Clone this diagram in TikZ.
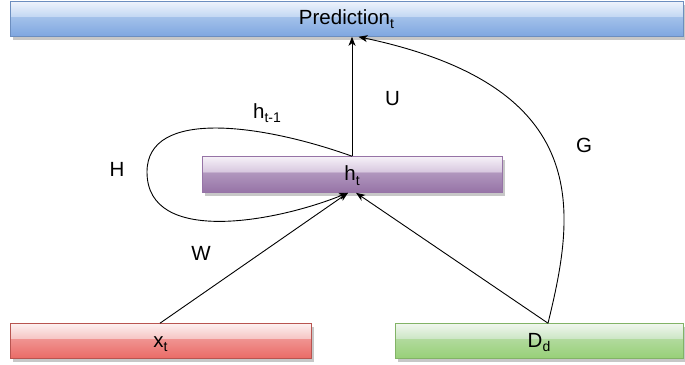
\documentclass[tikz,border=0pt]{standalone}
\usepackage{fontspec}
\setmainfont{Liberation Sans}
\usetikzlibrary{arrows.meta,shadows}

% bar colours: top tint, glass edge (upper), glass edge (lower), bottom tint, border
\definecolor{blueT}{HTML}{EEF3FC}\definecolor{blueU}{HTML}{C4D8F3}\definecolor{blueL}{HTML}{A3C1EA}\definecolor{blueB}{HTML}{7EA6E0}\definecolor{blueS}{HTML}{6C8EBF}
\definecolor{purpT}{HTML}{F6F1F8}\definecolor{purpU}{HTML}{D8C8DF}\definecolor{purpL}{HTML}{B197BE}\definecolor{purpB}{HTML}{9673A6}\definecolor{purpS}{HTML}{9673A6}
\definecolor{redT}{HTML}{FDF0F0}\definecolor{redU}{HTML}{F6C6C5}\definecolor{redL}{HTML}{F09391}\definecolor{redB}{HTML}{EA6B66}\definecolor{redS}{HTML}{B85450}
\definecolor{grnT}{HTML}{F0F7EE}\definecolor{grnU}{HTML}{CDE6C6}\definecolor{grnL}{HTML}{B1DA9D}\definecolor{grnB}{HTML}{97D077}\definecolor{grnS}{HTML}{82B366}

% glossy vertical shadings (25bp = bottom edge, 75bp = top edge of the bar)
\pgfdeclareverticalshading{glassblue}{100bp}{color(0bp)=(blueB); color(25bp)=(blueB); color(53bp)=(blueL); color(54bp)=(blueU); color(75bp)=(blueT); color(100bp)=(blueT)}
\pgfdeclareverticalshading{glasspurp}{100bp}{color(0bp)=(purpB); color(25bp)=(purpB); color(53bp)=(purpL); color(54bp)=(purpU); color(75bp)=(purpT); color(100bp)=(purpT)}
\pgfdeclareverticalshading{glassred}{100bp}{color(0bp)=(redB); color(25bp)=(redB); color(53bp)=(redL); color(54bp)=(redU); color(75bp)=(redT); color(100bp)=(redT)}
\pgfdeclareverticalshading{glassgrn}{100bp}{color(0bp)=(grnB); color(25bp)=(grnB); color(53bp)=(grnL); color(54bp)=(grnU); color(75bp)=(grnT); color(100bp)=(grnT)}

% smaller, lowered index letters
\newcommand\idx[1]{\raisebox{-4.5pt}{\fontsize{14}{14}\selectfont #1}}

\begin{document}
\begin{tikzpicture}[x=1pt,y=-1pt,
  font=\fontsize{20.5}{24}\selectfont,
  bar/.style={draw=#1, line width=0.6pt, inner sep=0pt, minimum height=35pt,
    text height=15pt, text depth=3pt,
    drop shadow={shadow xshift=2.5pt, shadow yshift=-3pt, fill=black!22, opacity=1}},
  conn/.style={line width=0.9pt, -{Stealth[length=9pt,width=7pt,inset=2.5pt]}},
  lbl/.style={inner sep=0pt, anchor=base}]
\useasboundingbox (0,0) rectangle (685,364);

% bars
\node[bar=blueS, shading=glassblue, minimum width=673pt, text height=14pt, text depth=4pt] (pred) at (346.5,19) {Prediction\idx{t}};
\node[bar=purpS, shading=glasspurp, minimum width=300pt, minimum height=36pt] (h) at (352,174.5) {h\idx{t}};
\node[bar=redS, shading=glassred, minimum width=301pt] (x) at (160.5,341) {x\idx{t}};
\node[bar=grnS, shading=glassgrn, minimum width=288pt] (d) at (539,341) {D\idx{d}};

% anchor points on the bars
\coordinate (hin) at ([xshift=-4pt]h.south);
\coordinate (hinD) at ([xshift=4pt]h.south);
\coordinate (xout) at ([xshift=-0.5pt]x.north);
\coordinate (dout) at ([xshift=9pt]d.north);
\coordinate (pinG) at ([xshift=12pt]pred.south);

% connectors
\draw[conn] (h.north) -- (h.north |- pred.south);
\draw[conn] (xout) -- (hin);
\draw[conn] (dout) -- (hinD);
\draw[conn] (dout) .. controls (575,213) and (596,87) .. (pinG);
\draw[conn] (h.north) .. controls (262,124) and (147,108) .. (147,172)
                      .. controls (147,246) and (276,222) .. (hin);

% labels
\node[lbl] (lh) at (267,118) {h\idx{t-1}};
\node[lbl] (lu) at (392.5,105) {U};
\node[lbl] (lH) at (117,176.5) {H};
\node[lbl] (lg) at (584,152.3) {G};
\node[lbl] (lw) at (201,260.7) {W};
\end{tikzpicture}
\end{document}
